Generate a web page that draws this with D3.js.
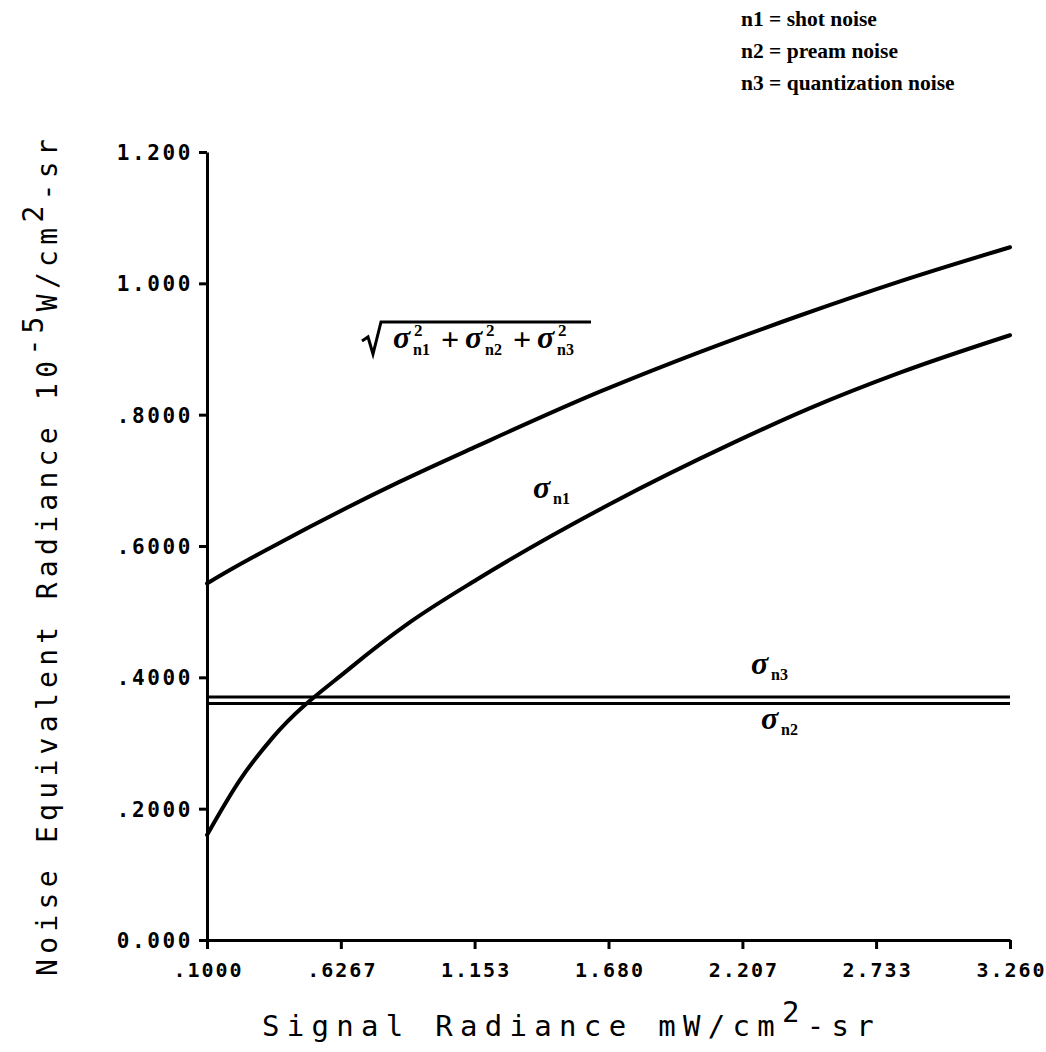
<!DOCTYPE html>
<html>
<head>
<meta charset="utf-8">
<script src="https://cdn.jsdelivr.net/npm/d3@7"></script>
<style>
  body { margin: 0; background: #fff; }
  svg { display: block; }
</style>
</head>
<body>
<svg id="chart" width="1046" height="1052"></svg>
<script>
// Shot noise (sigma n1) versus signal radiance
const shotSignal = [0.100, 0.230, 0.360, 0.663, 0.899, 1.162, 1.686, 2.170, 2.473, 2.827, 3.260];
const shotNoise  = [0.160, 0.244, 0.309, 0.414, 0.484, 0.549, 0.664, 0.757, 0.810, 0.864, 0.921];

// Root-sum-square of the three noise terms
const totalSignal = [0.100, 0.202, 0.348, 0.859, 1.162, 1.646, 1.949, 2.433, 2.827, 3.260];
const totalNoise  = [0.543, 0.566, 0.597, 0.698, 0.752, 0.835, 0.882, 0.951, 1.003, 1.055];

// Preamp and quantization noise are flat over the range
const flatSignal  = [0.100, 3.260];
const preampNoise = [0.360, 0.360];
const quantNoise  = [0.370, 0.370];

const xTickValues = [0.1, 0.6267, 1.153, 1.68, 2.207, 2.733, 3.26];
const xTickLabels = [".1000", ".6267", "1.153", "1.680", "2.207", "2.733", "3.260"];
const yTickValues = [0, 0.2, 0.4, 0.6, 0.8, 1.0, 1.2];
const yTickLabels = ["0.000", ".2000", ".4000", ".6000", ".8000", "1.000", "1.200"];

const legendLines = ["n1 = shot noise", "n2 = pream noise", "n3 = quantization noise"];

const svg = d3.select("#chart");
svg.append("rect").attr("width", 1046).attr("height", 1052).attr("fill", "#fff");

const x = d3.scaleLinear().domain([0.1, 3.26]).range([207, 1010]);
const y = d3.scaleLinear().domain([0, 1.2]).range([940, 152]);

const plotFont = "'DejaVu Sans Mono', monospace";
const serif = "'Liberation Serif', 'DejaVu Serif', serif";

// Axes
const xAxis = d3.axisBottom(x)
  .tickValues(xTickValues)
  .tickFormat((d, i) => xTickLabels[i])
  .tickSize(9)
  .tickSizeOuter(0);
const gx = svg.append("g").attr("transform", `translate(0,${y(0)})`).call(xAxis);

const yAxis = d3.axisLeft(y)
  .tickValues(yTickValues)
  .tickFormat((d, i) => yTickLabels[i])
  .tickSize(8)
  .tickSizeOuter(0);
const gy = svg.append("g").attr("transform", `translate(${x(0.1)},0)`).call(yAxis);

[gx, gy].forEach(g => {
  g.select(".domain").attr("stroke", "#000").attr("stroke-width", 3);
  g.selectAll(".tick line").attr("stroke", "#000").attr("stroke-width", 3);
});

gx.selectAll(".tick text")
  .attr("y", 37).attr("dy", 0).attr("dx", 1)
  .attr("font-family", plotFont).attr("font-weight", "bold")
  .attr("font-size", 20).attr("letter-spacing", 2).attr("fill", "#000");

gy.selectAll(".tick text")
  .attr("x", -14).attr("dy", "0.36em")
  .attr("font-family", plotFont).attr("font-weight", "bold")
  .attr("font-size", 21).attr("letter-spacing", 2.6).attr("fill", "#000");

// Curves
const line = d3.line().x(d => x(d[0])).y(d => y(d[1])).curve(d3.curveMonotoneX);
const pairs = (xs, ys) => xs.map((v, i) => [v, ys[i]]);

svg.append("path").datum(pairs(totalSignal, totalNoise))
  .attr("d", line).attr("fill", "none").attr("stroke", "#000")
  .attr("stroke-width", 4).attr("stroke-linecap", "round");
svg.append("path").datum(pairs(shotSignal, shotNoise))
  .attr("d", line).attr("fill", "none").attr("stroke", "#000")
  .attr("stroke-width", 4).attr("stroke-linecap", "round");
svg.append("path").datum(pairs(flatSignal, quantNoise))
  .attr("d", line).attr("fill", "none").attr("stroke", "#000").attr("stroke-width", 3);
svg.append("path").datum(pairs(flatSignal, preampNoise))
  .attr("d", line).attr("fill", "none").attr("stroke", "#000").attr("stroke-width", 3);

// Axis titles
const xt = svg.append("text")
  .attr("x", 262).attr("y", 1036)
  .attr("font-family", plotFont).attr("font-size", 29)
  .attr("letter-spacing", 7.3).attr("fill", "#000");
xt.append("tspan").text("Signal Radiance mW/cm");
xt.append("tspan").attr("dy", -14).text("2");
xt.append("tspan").attr("dy", 14).text("-sr");

const yt = svg.append("text")
  .attr("transform", "translate(57,976) rotate(-90)")
  .attr("font-family", plotFont).attr("font-size", 28)
  .attr("letter-spacing", 5.3).attr("fill", "#000");
yt.append("tspan").text("Noise Equivalent Radiance 10");
yt.append("tspan").attr("dy", -14).text("-5");
yt.append("tspan").attr("dy", 14).text("W/cm");
yt.append("tspan").attr("dy", -14).text("2");
yt.append("tspan").attr("dy", 14).text("-sr");

// Legend of noise sources
svg.append("g").selectAll("text").data(legendLines).join("text")
  .attr("x", 741).attr("y", (d, i) => 26 + i * 32)
  .attr("font-family", serif).attr("font-weight", "bold")
  .attr("font-size", 21.5).attr("fill", "#000")
  .text(d => d);

// Sigma label: sigma glyph with optional superscript and subscript
function sigmaLabel(px, py, sub, sup) {
  const g = svg.append("g").attr("fill", "#000").attr("font-family", serif).attr("font-weight", "bold");
  g.append("text").attr("x", px).attr("y", py)
    .attr("font-size", 32).attr("font-style", "italic").text("σ");
  if (sup) g.append("text").attr("x", px + 21).attr("y", py - 12).attr("font-size", 17).text(sup);
  g.append("text").attr("x", px + 20).attr("y", py + (sup ? 7 : 6))
    .attr("font-size", 16).text(sub);
}

// Root-sum-square formula
svg.append("path")
  .attr("d", "M362,341 L368,337 L373,354 L381,322 L591,322")
  .attr("fill", "none").attr("stroke", "#000").attr("stroke-width", 3)
  .attr("stroke-linejoin", "miter");
sigmaLabel(393, 348, "n1", "2");
sigmaLabel(465, 348, "n2", "2");
sigmaLabel(537, 348, "n3", "2");
svg.append("g").selectAll("text").data([441, 513]).join("text")
  .attr("x", d => d).attr("y", 350)
  .attr("font-family", serif).attr("font-weight", "bold").attr("font-size", 32)
  .attr("fill", "#000").text("+");

sigmaLabel(533, 498, "n1");
sigmaLabel(751, 674, "n3");
sigmaLabel(761, 729, "n2");
</script>
</body>
</html>
